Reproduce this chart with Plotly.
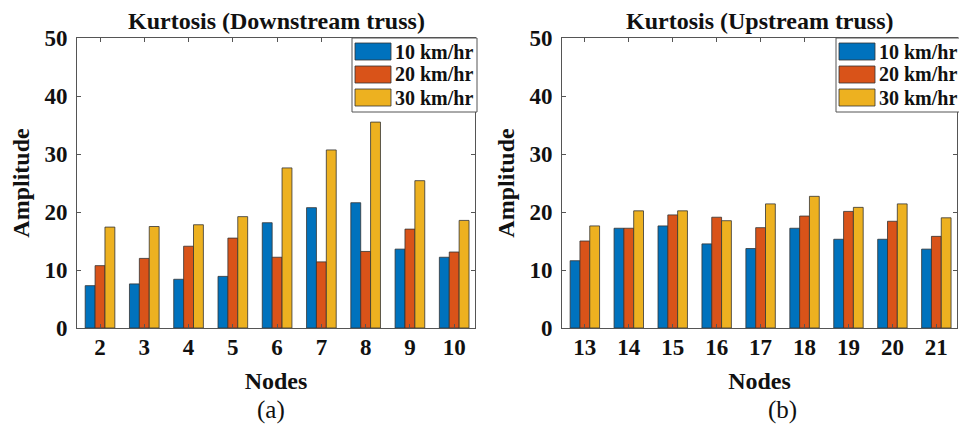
import plotly.graph_objects as go

# ---- data ----
nodes_down = ["2", "3", "4", "5", "6", "7", "8", "9", "10"]
down_10 = [7.3, 7.6, 8.4, 8.9, 18.15, 20.75, 21.6, 13.6, 12.2]
down_20 = [10.75, 12.0, 14.1, 15.5, 12.2, 11.4, 13.2, 17.05, 13.1]
down_30 = [17.4, 17.5, 17.8, 19.2, 27.6, 30.7, 35.5, 25.4, 18.55]

nodes_up = ["13", "14", "15", "16", "17", "18", "19", "20", "21"]
up_10 = [11.6, 17.2, 17.6, 14.5, 13.7, 17.2, 15.3, 15.3, 13.6]
up_20 = [15.0, 17.2, 19.5, 19.1, 17.3, 19.3, 20.1, 18.4, 15.8]
up_30 = [17.6, 20.2, 20.2, 18.5, 21.4, 22.7, 20.8, 21.4, 19.0]

series_names = ["10 km/hr", "20 km/hr", "30 km/hr"]
colors = ["#0072BD", "#D95319", "#EDB120"]

W, H = 959, 437
FONT = "Liberation Serif, Times New Roman, serif"

fig = go.Figure()

for vals, name, col in zip([down_10, down_20, down_30], series_names, colors):
    fig.add_trace(go.Bar(x=nodes_down, y=vals, name=name, marker_color=col,
                         marker_line=dict(color="#333333", width=0.8),
                         xaxis="x", yaxis="y", showlegend=False))
for vals, name, col in zip([up_10, up_20, up_30], series_names, colors):
    fig.add_trace(go.Bar(x=nodes_up, y=vals, name=name, marker_color=col,
                         marker_line=dict(color="#333333", width=0.8),
                         xaxis="x2", yaxis="y2", showlegend=False))


def px_x(p):
    return p / W


def px_y(p):
    return 1 - p / H


def axis_common(standoff):
    return dict(showline=True, linecolor="#555555", linewidth=1, mirror="ticks",
                ticks="inside", ticklen=4, tickcolor="#555555",
                tickfont=dict(family=FONT, size=23, color="#111111", weight="bold"),
                ticklabelstandoff=standoff, automargin=False,
                showgrid=False, zeroline=False)


L1, R1 = 77, 475
L2, R2 = 562, 957
T, B = 38, 328

title_font = dict(family=FONT, size=24, weight="bold", color="#111111")

shapes = []
annotations = [
    dict(text="Kurtosis (Downstream truss)", x=px_x((L1 + R1) / 2), y=px_y(21),
         xref="paper", yref="paper", showarrow=False, xanchor="center", yanchor="middle",
         font=title_font),
    dict(text="Kurtosis (Upstream truss)", x=px_x((L2 + R2) / 2), y=px_y(21),
         xref="paper", yref="paper", showarrow=False, xanchor="center", yanchor="middle",
         font=title_font),
    dict(text="(a)", x=px_x(271), y=px_y(410), xref="paper", yref="paper",
         showarrow=False, xanchor="center", yanchor="middle",
         font=dict(family=FONT, size=25, color="#111111")),
    dict(text="(b)", x=px_x(782), y=px_y(410), xref="paper", yref="paper",
         showarrow=False, xanchor="center", yanchor="middle",
         font=dict(family=FONT, size=25, color="#111111")),
]

# custom MATLAB-style legends (box + wide patches + labels)
for box_l, box_r in [(352, 477), (836, 960)]:
    shapes.append(dict(type="rect", xref="paper", yref="paper",
                       x0=px_x(box_l), x1=px_x(box_r), y0=px_y(112), y1=px_y(38),
                       fillcolor="white", line=dict(color="#555555", width=1), layer="above"))
    for i, (name, col) in enumerate(zip(series_names, colors)):
        top = 43 + i * 23
        shapes.append(dict(type="rect", xref="paper", yref="paper",
                           x0=px_x(box_l + 3), x1=px_x(box_l + 39),
                           y0=px_y(top + 17), y1=px_y(top),
                           fillcolor=col, line=dict(color="#333333", width=0.8), layer="above"))
        annotations.append(dict(text=name, x=px_x(box_l + 41), y=px_y(top + 8.5),
                                xref="paper", yref="paper", showarrow=False,
                                xanchor="left", yanchor="middle",
                                font=dict(family=FONT, size=20, weight="bold", color="#111111")))

fig.update_layout(
    width=W, height=H,
    margin=dict(l=0, r=0, t=0, b=0),
    paper_bgcolor="white", plot_bgcolor="white",
    barmode="group", bargap=0.33, bargroupgap=0.0,
    font=dict(family=FONT, color="#111111"),
    xaxis=dict(domain=[px_x(L1), px_x(R1)], anchor="y", range=[-0.52, 8.47],
               title=dict(text="Nodes", font=title_font, standoff=13),
               **axis_common(-2)),
    yaxis=dict(domain=[px_y(B), px_y(T)], anchor="x", range=[0, 50], dtick=10,
               title=dict(text="Amplitude", font=title_font, standoff=8),
               **axis_common(4)),
    xaxis2=dict(domain=[px_x(L2), px_x(R2)], anchor="y2", range=[-0.52, 8.47],
                title=dict(text="Nodes", font=title_font, standoff=13),
                **axis_common(-2)),
    yaxis2=dict(domain=[px_y(B), px_y(T)], anchor="x2", range=[0, 50], dtick=10,
                title=dict(text="Amplitude", font=title_font, standoff=8),
                **axis_common(4)),
    shapes=shapes,
    annotations=annotations,
)

fig.write_html("out.html")
